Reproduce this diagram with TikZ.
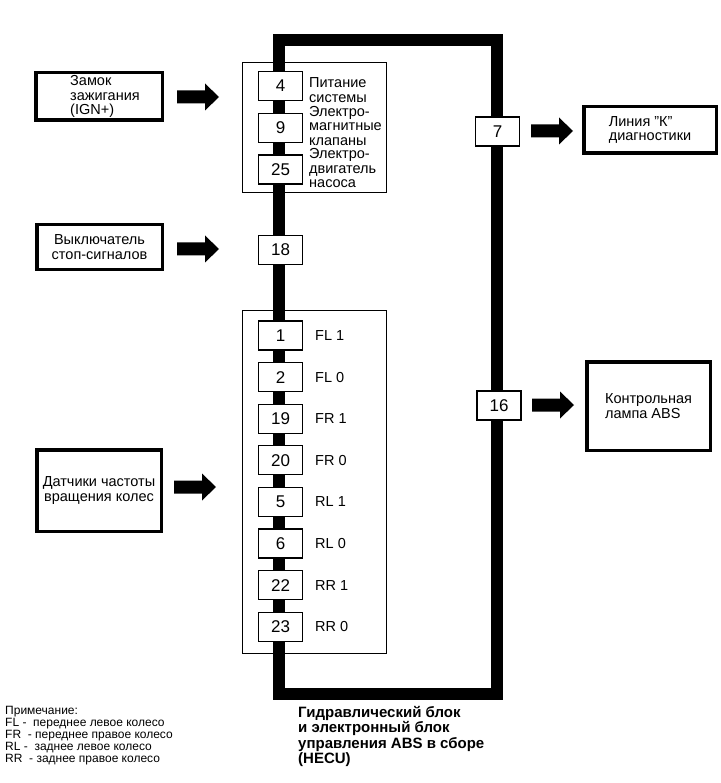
\documentclass[tikz,border=0pt]{standalone}
\usepackage{fontspec}
\setmainfont{Liberation Sans}
\newcommand{\boxfont}{\fontsize{14.5}{14.5}\selectfont}
\newcommand{\pinfont}{\fontsize{17}{17}\selectfont}
\newcommand{\notefont}{\fontsize{12}{12}\selectfont}
\newcommand{\titlefont}{\fontsize{15}{15.5}\selectfont\bfseries}
\tikzset{
  extbox/.style={draw, line width=3.5pt, inner sep=0pt, align=center, font=\boxfont},
  grpbox/.style={draw, line width=1pt},
  pinbox/.style={draw, line width=1.1pt, fill=white, minimum width=44pt, minimum height=29pt, inner sep=0pt, font=\pinfont},
  txt/.style={inner sep=0pt, align=left, font=\boxfont},
  frame/.style={line width=12pt, line join=miter},
  barrow/.pic={\fill (0,-6.5) -- (28,-6.5) -- (28,-13.5) -- (42,0) -- (28,13.5) -- (28,6.5) -- (0,6.5) -- cycle;}
}
\begin{document}
\begin{tikzpicture}[x=1pt,y=-1pt]
\useasboundingbox (0,0) rectangle (720,783);
% HECU frame
\coordinate (fTL) at (279,40);
\coordinate (fBR) at (497,694);
\draw[frame] (fTL) rectangle (fBR);
% group boxes
\draw[grpbox] (242,63) rectangle (386,193);
\draw[grpbox] (242,310) rectangle (386,653);
% external boxes
\node[extbox, minimum width=126.5pt, minimum height=47.5pt] (zamok) at (99,96.5) {};
\node[txt, anchor=west] (zamokT) at (70,96.5) {Замок\\зажигания\\(IGN+)};
\node[extbox, minimum width=125.5pt, minimum height=44.5pt] (vykl) at (99.5,247) {Выключатель\\стоп-сигналов};
\node[extbox, minimum width=124.5pt, minimum height=81.5pt] (datch) at (99,490.5) {Датчики частоты\\вращения колес};
\node[extbox, minimum width=132.5pt, minimum height=46.5pt, align=left] (liniya) at (650,130) {Линия "К"\\диагностики};
\node[extbox, minimum width=123.5pt, minimum height=88.5pt, align=left] (lamp) at (648.5,406) {Контрольная\\лампа ABS};
% pins upper
\node[pinbox] (p4) at (280.5,86) {4};
\node[pinbox] (p9) at (280.5,128) {9};
\node[pinbox] (p25) at (280.5,169.5) {25};
\node[pinbox] (p18) at (280.5,250) {18};
\node[txt, anchor=west] (l4) at (309,90) {Питание\\системы};
\node[txt, anchor=west] (l9) at (309,126) {Электро-\\магнитные\\клапаны};
\node[txt, anchor=west] (l25) at (309,168.5) {Электро-\\двигатель\\насоса};
% pins lower
\foreach \n/\lab [count=\i from 0] in {1/FL 1, 2/FL 0, 19/FR 1, 20/FR 0, 5/RL 1, 6/RL 0, 22/RR 1, 23/RR 0}{
  \node[pinbox] (p\n) at (280.5,335.5+41.6*\i) {\n};
  \node[txt, anchor=west] (l\n) at (315,335.5+41.6*\i) {\lab};
}
% right pins
\node[pinbox] (p7) at (497.5,131.5) {7};
\node[pinbox] (p16) at (499,405.5) {16};
% block arrows
\coordinate (a1) at (177,97);
\coordinate (a2) at (177,249);
\coordinate (a3) at (174,487);
\coordinate (a4) at (531,131);
\coordinate (a5) at (532,405);
\pic at (a1) {barrow};
\pic at (a2) {barrow};
\pic at (a3) {barrow};
\pic at (a4) {barrow};
\pic at (a5) {barrow};
% title
\node[inner sep=0pt, anchor=north west, align=left, font=\titlefont] (title) at (298,706) {Гидравлический блок\\и электронный блок\\управления ABS в сборе\\(HECU)};
% note
\node[inner sep=0pt, anchor=north west, align=left, font=\notefont] (note) at (5,706) {Примечание:\\FL - \ переднее левое колесо\\FR \ - переднее правое колесо\\RL - \ заднее левое колесо\\RR \ - заднее правое колесо};
\end{tikzpicture}
\end{document}
